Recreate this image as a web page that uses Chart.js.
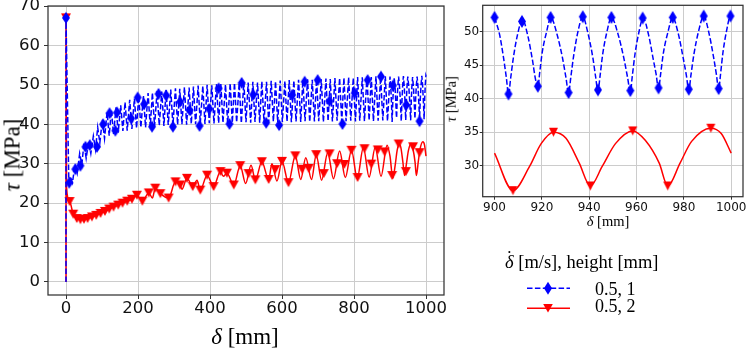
<!DOCTYPE html>
<html><head><meta charset="utf-8">
<script src="https://cdn.jsdelivr.net/npm/chart.js@4.4.0/dist/chart.umd.min.js"></script>
<style>
html,body{margin:0;padding:0;background:#fff;}
#wrap{position:relative;width:748px;height:349px;overflow:hidden;background:#fff;}
canvas{position:absolute;}
.t{position:absolute;font-family:'Liberation Serif',serif;color:#000;white-space:nowrap;}
.dd{position:relative;display:inline-block;}
.dd .dot{position:absolute;left:0;right:0;text-align:center;top:-0.22em;font-style:normal;}
</style></head><body>
<div id="wrap">
<canvas id="main" width="450" height="349" style="left:0;top:0;width:450px;height:349px"></canvas>
<canvas id="inset" width="302" height="232" style="left:446px;top:0;width:302px;height:232px"></canvas>
<div class="t" style="left:12px;top:155px;font-size:23px;line-height:23px;transform:translate(-50%,-50%) rotate(-90deg);"><i>τ</i> [MPa]</div>
<div class="t" style="left:245px;top:324.5px;font-size:23px;line-height:23px;transform:translateX(-50%);"><i>δ</i> [mm]</div>
<div class="t" style="left:451px;top:99px;font-size:14.5px;line-height:14.5px;transform:translate(-50%,-50%) rotate(-90deg);"><i>τ</i> [MPa]</div>
<div class="t" style="left:608px;top:213.5px;font-size:14.5px;line-height:14.5px;transform:translateX(-50%);"><i>δ</i> [mm]</div>
<div class="t" style="left:505px;top:253px;font-size:18.5px;line-height:18.5px;"><span class="dd"><i>δ</i><span class="dot">&#x2D9;</span></span> [m/s], height [mm]</div>
<div class="t" style="left:595px;top:280px;font-size:18px;line-height:18px;">0.5, 1</div>
<div class="t" style="left:595px;top:296.5px;font-size:18px;line-height:18px;">0.5, 2</div>
<svg style="position:absolute;left:522px;top:278px" width="56" height="40">
  <line x1="5" y1="10.3" x2="48" y2="10.3" stroke="#0000ff" stroke-width="1.5" stroke-dasharray="5.5 2.4"/>
  <polygon points="26,3.8 30,10.3 26,16.8 22,10.3" fill="#0000ff"/>
  <line x1="5" y1="30.3" x2="48" y2="30.3" stroke="#ff0000" stroke-width="1.5"/>
  <polygon points="21.2,26 30.8,26 26,34.6" fill="#ff0000"/>
</svg>
</div>
<script>
// ---------- tick labels ----------
const mainXTicks = [0, 200, 400, 600, 800, 1000];
const mainYTicks = [0, 10, 20, 30, 40, 50, 60, 70];
const insetXTicks = [900, 920, 940, 960, 980, 1000];
const insetYTicks = [30, 35, 40, 45, 50];

// ---------- blue series (0.5 m/s, 1 mm) ----------
const blueStartX = [0, 0, 8];
const blueStartY = [0, 67, 24.5];
const bluePeakX = [12,25,38,50,63,76,88,101,114,126,139,152,164,177,190,202,215,228,240,253,266,278,291,304,316,329,342,354,367,380,392,405,418,430,443,456,468,481,494,506,519,532,544,557,570,582,595,608,620,633,646,658,671,684,696,709,722,734,747,760,772,785,798,810,823,836,848,861,874,887];
const bluePeakY = [26.8,29.8,32.6,35.2,35.6,37.0,39.2,41.2,43.0,43.6,44.3,44.8,45.6,46.2,46.5,47.2,47.3,47.9,48.0,48.4,48.3,48.7,48.8,49.1,49.0,49.4,49.3,49.6,49.8,49.7,50.0,49.9,50.2,50.3,50.1,50.4,50.5,50.4,50.7,50.6,50.8,50.6,50.9,50.8,51.0,50.9,51.1,51.0,51.2,51.1,51.3,51.2,51.4,51.3,51.5,51.4,51.6,51.5,51.7,51.7,51.8,51.9,51.8,52.0,51.9,52.1,52.0,52.2,52.1,52.2];
const blueTroughX = [18,31,44,56,69,82,94,107,120,132,145,158,170,183,196,208,221,234,246,259,272,284,297,310,322,335,348,360,373,386,398,411,424,436,449,462,474,487,500,513,525,538,550,563,576,588,601,614,626,639,652,664,677,690,702,715,728,740,753,766,778,791,804,816,829,842,854,867,880,893];
const blueTroughY = [25.2,27.6,29.8,31.4,32.6,33.6,35.3,36.4,37.1,37.5,37.9,38.3,38.4,38.8,39.0,39.2,39.2,39.4,39.5,39.7,39.6,39.8,39.7,39.9,40.0,39.9,40.1,40.0,40.2,40.1,40.3,40.2,40.3,40.4,40.2,40.4,40.5,40.3,40.5,40.4,40.6,40.4,40.6,40.5,40.7,40.5,40.6,40.7,40.5,40.7,40.6,40.8,40.6,40.7,40.8,40.6,40.8,40.7,40.9,40.7,40.8,40.9,40.7,40.9,40.8,41.0,40.8,40.9,41.0,40.8];
const blueEndX = [900,902.1,903.8,905.0,905.9,906.8,908.0,909.7,911.8,914.1,916.0,917.3,918.3,919.1,920.2,921.9,923.8,926.4,928.7,930.2,931.3,932.2,933.4,935.2,937.3,939.5,941.5,942.7,943.7,944.6,945.7,947.4,949.4,952.2,954.6,956.2,957.4,958.2,959.3,960.9,962.8,965.1,967.0,968.3,969.3,970.2,971.4,973.2,975.3,977.7,979.7,981.1,982.1,983.0,984.3,986.2,988.4,990.6,992.5,993.8,994.7,995.5,996.5,998.0,999.7,1000];
const blueEndY = [52.1,49.6,46.1,43.1,40.6,43.0,46.2,49.5,51.8,49.3,45.8,42.9,41.6,43.9,47.0,49.8,52.1,49.6,46.1,43.1,40.8,43.1,46.3,49.9,52.2,49.7,46.2,43.3,41.1,43.4,46.6,49.8,52.1,49.6,46.1,43.2,41.0,43.3,46.5,49.7,52.0,49.5,46.0,43.6,41.4,43.7,46.9,49.8,52.1,49.6,46.1,43.4,41.2,43.5,46.7,50.0,52.3,49.8,46.3,43.5,41.3,43.6,46.8,50.0,52.3,52.2];
const blueMarkX = [0,9,26,40,54,66,86,103,121,137,142,181,199,217,239,257,278,297,317,343,371,398,424,454,488,520,556,592,628,663,699,732,768,802,838,875,908,945,982];
const blueMarkY = [67,25.2,28.6,29.5,34.3,34.7,34.3,40.0,42.8,38.4,43.0,41.5,46.8,45.1,39.4,47.7,47.3,39.4,45.7,43.6,39.6,43.9,49.1,40.1,50.5,47.5,40.4,39.8,47.4,50.8,51.2,45.9,40.1,47.9,51.2,52.1,49.8,44.9,40.8];
const blueInsetMarkX = [900,905.9,911.6,918.3,923.7,931.3,937.3,943.7,949.4,957.4,962.6,969.3,975.3,982.1,988.4,994.7,999.7];
const blueInsetMarkY = [52.1,40.7,51.5,41.85,52.1,40.9,52.2,41.3,52.1,41.2,52.0,41.6,52.1,41.4,52.3,41.5,52.3];

// ---------- red series (0.5 m/s, 2 mm) ----------
const redLineX = [0,0,1.5,10,20,30,40,50,60,72,84,96,108,120,132,145,157,170,183,197,212,230,240,248,262,285,304,317,322,336,352,364,373,392,410,429,437,447,466,484,499,514,526,544,563,572,586,600,618,637,652,666,682,695,710,727,743,760,776,793,809,826,842,859,875,892,900,907.8,914.8,919.7,924.9,930.2,935.8,940.5,945.5,951.1,958.4,963.7,969.6,973.2,978.4,983.2,991.4,995.8,1000];
const redLineY = [0,67,24,20.4,17.2,16.1,15.8,15.9,16.1,16.5,16.9,17.4,17.9,18.5,19.0,19.5,20.0,20.5,21.0,22.0,20.5,22.6,21.3,23.8,22.4,21.3,25.4,24.6,23.5,26.3,24.2,25.8,23.3,27.1,24.2,28.0,26.8,27.6,24.6,29.5,25.0,29.6,25.9,30.5,26.0,30.0,25.6,30.6,25.2,32.0,26.0,31.5,26.0,32.3,25.8,32.8,26.2,33.2,26.5,33.4,26.3,34.1,26.6,34.2,26.8,34.7,31.9,26.3,29.9,33.3,35.0,34.1,30.4,27.0,29.9,33.3,35.2,33.8,30.4,27.0,30.4,33.6,35.6,34.8,31.9];
const redMarkX = [0,10,20,30,40,50,60,72,84,96,108,120,132,145,157,170,183,197,212,230,248,262,285,304,317,336,352,373,392,410,429,447,466,484,507,526,544,563,581,600,618,637,656,674,695,716,732,753,773,793,810,829,848,866,885,906,924,944,964,982];
const redMarkY = [67,20.4,17.2,16.1,15.8,15.9,16.1,16.5,16.9,17.4,17.9,18.5,19.0,19.5,20.0,20.5,21.0,22.0,20.5,22.6,23.8,22.4,21.3,25.4,24.6,26.3,24.2,23.3,27.1,24.2,28.0,27.6,24.6,29.5,27.5,25.9,30.5,26.0,28.5,30.6,25.2,32.0,28.6,28.8,32.3,27.5,32.5,30.0,29.8,33.4,26.5,33.8,29.9,33.5,33.0,27.0,35.0,28.0,34.3,32.8];
const redInsetMarkX = [907.8,924.9,940.5,958.4,973.2,991.4];
const redInsetMarkY = [26.3,35.0,27.0,35.2,27.0,35.6];
const insetFrom = 900;

// ---------- build point tables ----------
const zip = (xs, ys) => xs.map((x, i) => ({x: x, y: ys[i]}));
const blueLine = zip(blueStartX, blueStartY);
bluePeakX.forEach((x, i) => {
  blueLine.push({x: x, y: bluePeakY[i]});
  blueLine.push({x: blueTroughX[i], y: blueTroughY[i]});
});
zip(blueEndX, blueEndY).forEach(p => blueLine.push(p));
const redLine = zip(redLineX, redLineY);
const blueInsetLine = blueLine.filter(p => p.x >= insetFrom);
const redInsetLine = redLine.filter(p => p.x >= insetFrom);

const BLUE = '#0000ff', RED = '#ff0000';
function diamond(w, h, color) {
  const c = document.createElement('canvas');
  c.width = w + 2; c.height = h + 2;
  const g = c.getContext('2d');
  g.fillStyle = color; g.beginPath();
  g.moveTo(c.width / 2, 1); g.lineTo(c.width - 1, c.height / 2);
  g.lineTo(c.width / 2, c.height - 1); g.lineTo(1, c.height / 2);
  g.closePath(); g.fill();
  return c;
}
function triDown(w, h, color) {
  const c = document.createElement('canvas');
  c.width = w + 2; c.height = h + 2;
  const g = c.getContext('2d');
  g.fillStyle = color; g.beginPath();
  g.moveTo(1, 1); g.lineTo(c.width - 1, 1); g.lineTo(c.width / 2, c.height - 1);
  g.closePath(); g.fill();
  return c;
}
const dMain = diamond(8, 12.5, BLUE), tMain = triDown(10, 9, RED);
const dIn = diamond(8, 13, BLUE), tIn = triDown(9.5, 9, RED);

const spines = {
  id: 'spines',
  afterDatasetsDraw(chart) {
    const {ctx, chartArea: a} = chart;
    ctx.save(); ctx.strokeStyle = '#333'; ctx.lineWidth = 1.25;
    ctx.strokeRect(a.left, a.top, a.right - a.left, a.bottom - a.top);
    ctx.restore();
  }
};
const zeroPad = s => { s.paddingTop = 0; s.paddingBottom = 0; s.paddingLeft = 0; s.paddingRight = 0; };

function axis(min, max, ticks, fontSize, tickLen, pad, fit) {
  return {
    type: 'linear', min: min, max: max,
    afterBuildTicks: s => { s.ticks = ticks.map(v => ({value: v})); },
    afterFit: s => { fit(s); zeroPad(s); },
    ticks: {font: {family: 'DejaVu Sans', size: fontSize}, color: '#111', padding: pad,
            maxRotation: 0, autoSkip: false, callback: v => String(v)},
    grid: {color: '#cccccc', lineWidth: 1, tickColor: '#333', tickLength: tickLen, drawTicks: true},
    border: {display: false}
  };
}

function datasets(bLine, rLine, dImg, tImg, bMarks, rMarks, blueSmooth) {
  return [
    {data: bMarks, showLine: false, pointStyle: dImg, order: 0},
    {data: bLine, showLine: true, borderColor: BLUE, borderWidth: 1.5, borderDash: [5.5, 2.4],
     pointRadius: 0, order: 1, cubicInterpolationMode: blueSmooth ? 'monotone' : 'default', tension: 0},
    {data: rMarks, showLine: false, pointStyle: tImg, order: 2},
    {data: rLine, showLine: true, borderColor: RED, borderWidth: 1.5, pointRadius: 0, order: 3,
     cubicInterpolationMode: 'monotone'}
  ];
}

new Chart(document.getElementById('main'), {
  type: 'scatter',
  data: {datasets: datasets(blueLine, redLine, dMain, tMain, zip(blueMarkX, blueMarkY), zip(redMarkX, redMarkY), false)},
  options: {
    animation: false, responsive: false, devicePixelRatio: 1,
    plugins: {legend: {display: false}, tooltip: {enabled: false}},
    layout: {padding: {left: 0, right: 6, top: 6, bottom: 0}},
    scales: {
      x: axis(-50, 1050, mainXTicks, 16.5, 4, 0, s => { s.height = 54; }),
      y: axis(-3.3, 70, mainYTicks, 16.5, 4, 4, s => { s.width = 48; })
    }
  },
  plugins: [spines]
});

new Chart(document.getElementById('inset'), {
  type: 'scatter',
  data: {datasets: datasets(blueInsetLine, redInsetLine, dIn, tIn, zip(blueInsetMarkX, blueInsetMarkY), zip(redInsetMarkX, redInsetMarkY), true)},
  options: {
    animation: false, responsive: false, devicePixelRatio: 1,
    plugins: {legend: {display: false}, tooltip: {enabled: false}},
    layout: {padding: {left: 0, right: 2.3, top: 5.3, bottom: 0}},
    scales: {
      x: axis(895, 1005, insetXTicks, 12, 3, 1.4, s => { s.height = 35.3; }),
      y: axis(25.4, 53.9, insetYTicks, 12, 3, 0.5, s => { s.width = 36.7; })
    }
  },
  plugins: [spines]
});
</script>
</body></html>
